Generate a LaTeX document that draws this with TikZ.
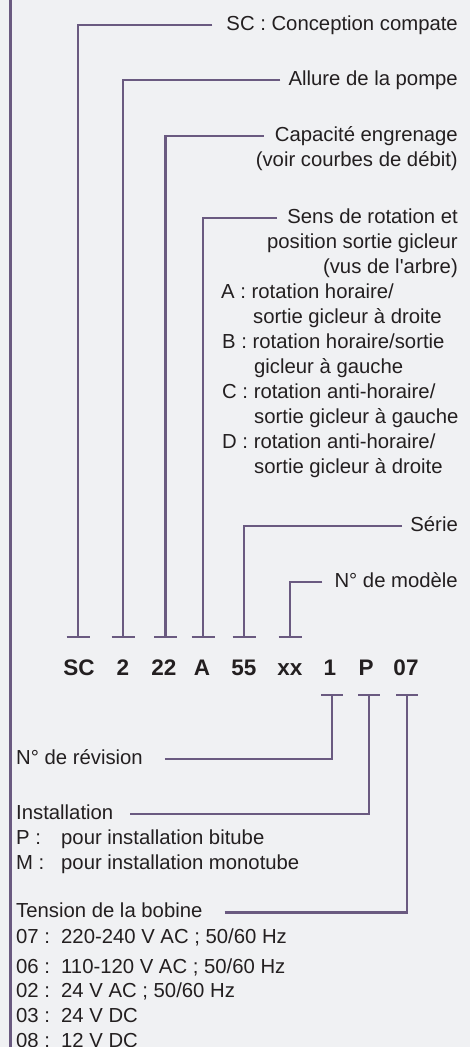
\documentclass[tikz,border=0pt]{standalone}
\usepackage{fontspec}
\setmainfont{Liberation Sans}
\newfontfamily\plainapos{Liberation Sans}[Ligatures=TeXOff]
\definecolor{bgc}{HTML}{F0F1F3}
\definecolor{lc}{HTML}{6A5A80}
\definecolor{txt}{HTML}{231F20}
\begin{document}
\begin{tikzpicture}[x=1pt,y=-1pt,
  lbl/.style={inner sep=0pt, text height=15pt, text depth=4.5pt, text=txt,
              font=\fontsize{20.3}{24}\selectfont},
  lblR/.style={lbl, anchor=base east},
  lblL/.style={lbl, anchor=base west},
  code/.style={inner sep=0pt, anchor=base, text=txt,
               font=\fontsize{22.5}{26}\selectfont\bfseries},
  conn/.style={draw=lc, line width=2.2pt},
  border/.style={draw=lc, line width=2.7pt}]
\fill[bgc] (0,0) rectangle (470,1047);
\useasboundingbox (0,0) rectangle (470,1047);
\draw[border] (10.5,-2) -- (10.5,1050);

% ---- upper labels
\node[lblR] (lSC)   at (458,30)    {SC : Conception compate};
\node[lblR] (lAl)   at (458,85)    {Allure de la pompe};
\node[lblR] (lCap)  at (458,141.5) {Capacité engrenage};
\node[lblR] (lCap2) at (458,166)   {(voir courbes de débit)};
\node[lblR] (lSens) at (458,223)   {Sens de rotation et};
\node[lblR] (lSens2) at (458,248)  {position sortie gicleur};
\node[lblR] (lSens3) at (458,273)  {(vus de l{\plainapos'}arbre)};
\node[lblL] (lA1) at (221,298) {A : rotation horaire/};
\node[lblL] (lA2) at (253,323) {sortie gicleur à droite};
\node[lblL] (lB1) at (222,348) {B : rotation horaire/sortie};
\node[lblL] (lB2) at (254,373) {gicleur à gauche};
\node[lblL] (lC1) at (222,398) {C : rotation anti-horaire/};
\node[lblL] (lC2) at (254,423) {sortie gicleur à gauche};
\node[lblL] (lD1) at (222,448) {D : rotation anti-horaire/};
\node[lblL] (lD2) at (254,473) {sortie gicleur à droite};
\node[lblR] (lSer)  at (458,531)   {Série};
\node[lblR] (lMod)  at (458,587)   {N° de modèle};

% ---- code
\node[code] (cSC) at (79,675.7)  {SC};
\node[code] (c2)  at (123,675.7) {2};
\node[code] (c22) at (164,675.7) {22};
\node[code] (cA)  at (202,675.7) {A};
\node[code] (c55) at (244,675.7) {55};
\node[code] (cxx) at (290,675.7) {xx};
\node[code] (c1)  at (330,675.7) {1};
\node[code] (cP)  at (366,675.7) {P};
\node[code] (c07) at (406,675.7) {07};

% ---- tick coordinates
\coordinate (tSC) at (78,637);
\coordinate (t2)  at (123,637);
\coordinate (t22) at (165.5,637);
\coordinate (tA)  at (203,637);
\coordinate (t55) at (244,637);
\coordinate (txx) at (290,637);
\coordinate (t1)  at (332,695);
\coordinate (tP)  at (369,695);
\coordinate (t07) at (407,695);

% ---- lower labels
\node[lblL] (lRev) at (16,764)   {N° de révision};
\node[lblL] (lIns) at (16,819)   {Installation};
\node[lblL] (lPP)  at (16,844)   {\makebox[45pt][l]{P :}pour installation bitube};
\node[lblL] (lMM)  at (16,869)   {\makebox[45pt][l]{M :}pour installation monotube};
\node[lblL] (lTen) at (16,917.7) {Tension de la bobine};
\node[lblL] (v07)  at (16,943.5) {\makebox[45pt][l]{07 :}220-240 V AC ; 50/60 Hz};
\node[lblL] (v06)  at (16,973)   {\makebox[45pt][l]{06 :}110-120 V AC ; 50/60 Hz};
\node[lblL] (v02)  at (16,997.7) {\makebox[45pt][l]{02 :}24 V AC ; 50/60 Hz};
\node[lblL] (v03)  at (16,1022.7){\makebox[45pt][l]{03 :}24 V DC};
\node[lblL] (v08)  at (16,1047.8){\makebox[45pt][l]{08 :}12 V DC};

% ---- connectors (upper)
\draw[conn] ([xshift=-14pt]lSC.west)  -| (tSC);
\draw[conn] ([xshift=-8pt]lAl.west)   -| (t2);
\draw[conn] ([xshift=-11pt]lCap.west) -| (t22);
\draw[conn] ([xshift=-10pt]lSens.west) -| (tA);
\draw[conn] ([xshift=-8pt]lSer.west)  -| (t55);
\draw[conn] ([xshift=-12pt]lMod.west) -| (txx);
\foreach \t in {tSC,t2,t22,tA,t55,txx}
  \draw[conn] ([xshift=-11.5pt]\t) -- ([xshift=11.5pt]\t);

% ---- connectors (lower)
\draw[conn] ([xshift=22pt]lRev.east) -| (t1);
\draw[conn] ([xshift=17pt]lIns.east) -| (tP);
\draw[conn] ([xshift=22pt]lTen.east) -| (t07);
\foreach \t in {t1,tP,t07}
  \draw[conn] ([xshift=-11pt]\t) -- ([xshift=11pt]\t);
\end{tikzpicture}
\end{document}
